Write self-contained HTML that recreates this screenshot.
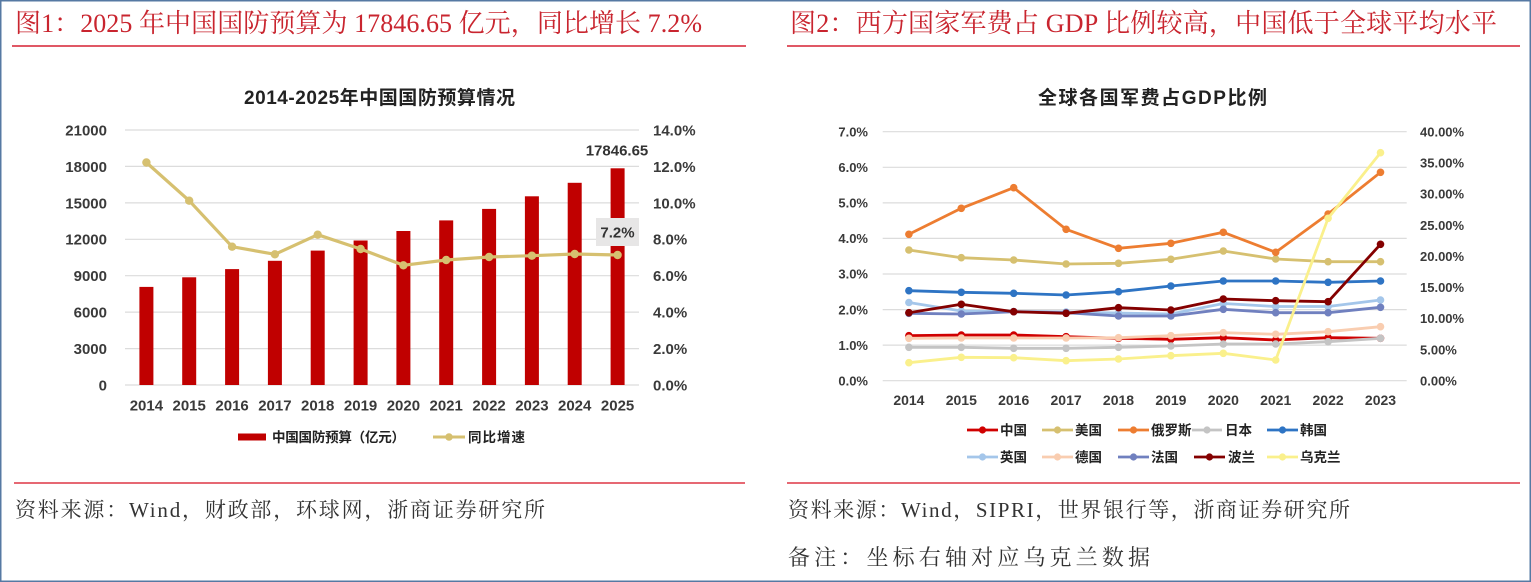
<!DOCTYPE html>
<html>
<head>
<meta charset="utf-8">
<style>
html,body{margin:0;padding:0;background:#fff;}
body{width:1531px;height:582px;overflow:hidden;}
svg{display:block;}
.t{font-family:"Liberation Serif","Noto Serif CJK SC",serif;}
.s{font-family:"Liberation Sans","Noto Sans CJK SC",sans-serif;font-weight:bold;}
</style>
</head>
<body>
<svg width="1531" height="582" viewBox="0 0 1531 582" xmlns="http://www.w3.org/2000/svg">
<defs>
  <marker id="mk" markerWidth="10" markerHeight="10" refX="5" refY="5" markerUnits="userSpaceOnUse"><circle cx="5" cy="5" r="4.2" fill="#d6c070"/></marker>
  <marker id="m0" markerWidth="10" markerHeight="10" refX="5" refY="5" markerUnits="userSpaceOnUse"><circle cx="5" cy="5" r="3.8" fill="#d00000"/></marker>
  <marker id="m1" markerWidth="10" markerHeight="10" refX="5" refY="5" markerUnits="userSpaceOnUse"><circle cx="5" cy="5" r="3.8" fill="#d6c070"/></marker>
  <marker id="m2" markerWidth="10" markerHeight="10" refX="5" refY="5" markerUnits="userSpaceOnUse"><circle cx="5" cy="5" r="3.8" fill="#ed7d31"/></marker>
  <marker id="m3" markerWidth="10" markerHeight="10" refX="5" refY="5" markerUnits="userSpaceOnUse"><circle cx="5" cy="5" r="3.8" fill="#c4c4c4"/></marker>
  <marker id="m4" markerWidth="10" markerHeight="10" refX="5" refY="5" markerUnits="userSpaceOnUse"><circle cx="5" cy="5" r="3.8" fill="#2e74c4"/></marker>
  <marker id="m5" markerWidth="10" markerHeight="10" refX="5" refY="5" markerUnits="userSpaceOnUse"><circle cx="5" cy="5" r="3.8" fill="#a4c6ea"/></marker>
  <marker id="m6" markerWidth="10" markerHeight="10" refX="5" refY="5" markerUnits="userSpaceOnUse"><circle cx="5" cy="5" r="3.8" fill="#f9cdb0"/></marker>
  <marker id="m7" markerWidth="10" markerHeight="10" refX="5" refY="5" markerUnits="userSpaceOnUse"><circle cx="5" cy="5" r="3.8" fill="#7080bf"/></marker>
  <marker id="m8" markerWidth="10" markerHeight="10" refX="5" refY="5" markerUnits="userSpaceOnUse"><circle cx="5" cy="5" r="3.8" fill="#840000"/></marker>
  <marker id="m9" markerWidth="10" markerHeight="10" refX="5" refY="5" markerUnits="userSpaceOnUse"><circle cx="5" cy="5" r="3.8" fill="#faf08c"/></marker>
</defs>

<rect x="0" y="0" width="1531" height="582" fill="#ffffff"/>
<rect x="0.75" y="0.75" width="1529.5" height="580.5" fill="none" stroke="#5679a3" stroke-width="1.5"/>

<!-- ===== Titles ===== -->
<text class="t" x="15" y="32" font-size="26" fill="#c9252f" textLength="687">图1：2025 年中国国防预算为 17846.65 亿元，同比增长 7.2%</text>
<text class="t" x="790" y="32" font-size="26" fill="#c9252f" textLength="707">图2：西方国家军费占 GDP 比例较高，中国低于全球平均水平</text>
<line x1="12" y1="46" x2="746" y2="46" stroke="#e05865" stroke-width="2"/>
<line x1="787" y1="46" x2="1520" y2="46" stroke="#e05865" stroke-width="2"/>

<!-- ===== Left chart ===== -->
<text class="s" x="244" y="104" font-size="19" fill="#222" textLength="271">2014-2025年中国国防预算情况</text>

<g stroke="#dcdcdc" stroke-width="1.2">
  <line x1="125" y1="130" x2="639" y2="130"/>
  <line x1="125" y1="166.4" x2="639" y2="166.4"/>
  <line x1="125" y1="202.9" x2="639" y2="202.9"/>
  <line x1="125" y1="239.3" x2="639" y2="239.3"/>
  <line x1="125" y1="275.7" x2="639" y2="275.7"/>
  <line x1="125" y1="312.1" x2="639" y2="312.1"/>
  <line x1="125" y1="348.6" x2="639" y2="348.6"/>
  <line x1="125" y1="385" x2="639" y2="385"/>
</g>
<g class="s" font-size="15" fill="#3a3a3a" text-anchor="end">
  <text x="107" y="135.4">21000</text>
  <text x="107" y="171.8">18000</text>
  <text x="107" y="208.3">15000</text>
  <text x="107" y="244.7">12000</text>
  <text x="107" y="281.1">9000</text>
  <text x="107" y="317.5">6000</text>
  <text x="107" y="354">3000</text>
  <text x="107" y="390.4">0</text>
</g>
<g class="s" font-size="15" fill="#3a3a3a">
  <text x="653" y="135.4">14.0%</text>
  <text x="653" y="171.8">12.0%</text>
  <text x="653" y="208.3">10.0%</text>
  <text x="653" y="244.7">8.0%</text>
  <text x="653" y="281.1">6.0%</text>
  <text x="653" y="317.5">4.0%</text>
  <text x="653" y="354">2.0%</text>
  <text x="653" y="390.4">0.0%</text>
</g>
<g fill="#c00000">
  <rect x="139.4" y="286.9" width="14" height="98.1"/>
  <rect x="182.2" y="277.3" width="14" height="107.7"/>
  <rect x="225.1" y="269.1" width="14" height="115.9"/>
  <rect x="267.9" y="260.8" width="14" height="124.2"/>
  <rect x="310.7" y="250.6" width="14" height="134.4"/>
  <rect x="353.6" y="240.5" width="14" height="144.5"/>
  <rect x="396.4" y="231.0" width="14" height="154.0"/>
  <rect x="439.2" y="220.4" width="14" height="164.6"/>
  <rect x="482.1" y="208.9" width="14" height="176.1"/>
  <rect x="524.9" y="196.3" width="14" height="188.7"/>
  <rect x="567.7" y="182.8" width="14" height="202.2"/>
  <rect x="610.6" y="168.3" width="14" height="216.7"/>
</g>
<rect x="596" y="218" width="43" height="28" fill="#e7e6e6"/>
<polyline fill="none" stroke="#d6c070" stroke-width="3.2" stroke-linejoin="round"
  marker-start="url(#mk)" marker-mid="url(#mk)" marker-end="url(#mk)"
  points="146.4,162.5 189.2,200.7 232.1,246.7 274.9,254.3 317.7,234.7 360.6,249 403.4,265.3 446.2,260 489.1,257 531.9,255.7 574.7,254 617.6,255"/>
<text class="s" x="617" y="155.4" font-size="15" fill="#333" text-anchor="middle">17846.65</text>
<text class="s" x="617.5" y="237.4" font-size="15" fill="#333" text-anchor="middle">7.2%</text>

<g class="s" font-size="15" fill="#3a3a3a" text-anchor="middle">
  <text x="146.4" y="410.5">2014</text>
  <text x="189.2" y="410.5">2015</text>
  <text x="232.1" y="410.5">2016</text>
  <text x="274.9" y="410.5">2017</text>
  <text x="317.7" y="410.5">2018</text>
  <text x="360.6" y="410.5">2019</text>
  <text x="403.4" y="410.5">2020</text>
  <text x="446.2" y="410.5">2021</text>
  <text x="489.1" y="410.5">2022</text>
  <text x="531.9" y="410.5">2023</text>
  <text x="574.7" y="410.5">2024</text>
  <text x="617.6" y="410.5">2025</text>
</g>
<rect x="238" y="433.5" width="28" height="7" fill="#c00000"/>
<text class="s" x="272" y="442" font-size="13.5" fill="#222" textLength="133">中国国防预算（亿元）</text>
<line x1="433" y1="437" x2="465" y2="437" stroke="#d6c070" stroke-width="3"/>
<circle cx="449" cy="437" r="3.8" fill="#d6c070"/>
<text class="s" x="468" y="442" font-size="13.5" fill="#222" textLength="57">同比增速</text>

<line x1="14" y1="483" x2="745" y2="483" stroke="#e66873" stroke-width="2"/>
<text class="t" x="15" y="517" font-size="21" fill="#333" textLength="530">资料来源：Wind，财政部，环球网，浙商证券研究所</text>

<!-- ===== Right chart ===== -->
<text class="s" x="1038" y="104" font-size="19" fill="#222" textLength="229">全球各国军费占GDP比例</text>

<g stroke="#dcdcdc" stroke-width="1.2">
  <line x1="882.7" y1="131.7" x2="1406.7" y2="131.7"/>
  <line x1="882.7" y1="167.3" x2="1406.7" y2="167.3"/>
  <line x1="882.7" y1="202.9" x2="1406.7" y2="202.9"/>
  <line x1="882.7" y1="238.4" x2="1406.7" y2="238.4"/>
  <line x1="882.7" y1="274.0" x2="1406.7" y2="274.0"/>
  <line x1="882.7" y1="309.6" x2="1406.7" y2="309.6"/>
  <line x1="882.7" y1="345.1" x2="1406.7" y2="345.1"/>
  <line x1="882.7" y1="380.7" x2="1406.7" y2="380.7"/>
</g>
<g class="s" font-size="13" fill="#3a3a3a" text-anchor="end">
  <text x="868" y="136.4">7.0%</text>
  <text x="868" y="172">6.0%</text>
  <text x="868" y="207.6">5.0%</text>
  <text x="868" y="243.1">4.0%</text>
  <text x="868" y="278.7">3.0%</text>
  <text x="868" y="314.3">2.0%</text>
  <text x="868" y="349.8">1.0%</text>
  <text x="868" y="385.4">0.0%</text>
</g>
<g class="s" font-size="13" fill="#3a3a3a">
  <text x="1420" y="136.4">40.00%</text>
  <text x="1420" y="167.5">35.00%</text>
  <text x="1420" y="198.6">30.00%</text>
  <text x="1420" y="229.8">25.00%</text>
  <text x="1420" y="260.9">20.00%</text>
  <text x="1420" y="292.0">15.00%</text>
  <text x="1420" y="323.1">10.00%</text>
  <text x="1420" y="354.3">5.00%</text>
  <text x="1420" y="385.4">0.00%</text>
</g>

<g fill="none" stroke-width="2.8" stroke-linejoin="round">
  <polyline stroke="#d00000" marker-start="url(#m0)" marker-mid="url(#m0)" marker-end="url(#m0)"
    points="908.9,335.7 961.3,335 1013.7,335 1066.1,336.7 1118.5,338.3 1170.9,339.3 1223.3,337.7 1275.7,340 1328.1,337.7 1380.5,338.3"/>
  <polyline stroke="#d6c070" marker-start="url(#m1)" marker-mid="url(#m1)" marker-end="url(#m1)"
    points="908.9,250 961.3,257.7 1013.7,260 1066.1,264 1118.5,263.3 1170.9,259.3 1223.3,251 1275.7,259 1328.1,261.7 1380.5,261.7"/>
  <polyline stroke="#ed7d31" marker-start="url(#m2)" marker-mid="url(#m2)" marker-end="url(#m2)"
    points="908.9,234.3 961.3,208.3 1013.7,187.7 1066.1,229.3 1118.5,248.3 1170.9,243.3 1223.3,232.3 1275.7,252.3 1328.1,214 1380.5,172.3"/>
  <polyline stroke="#c4c4c4" marker-start="url(#m3)" marker-mid="url(#m3)" marker-end="url(#m3)"
    points="908.9,347.3 961.3,347.3 1013.7,348.3 1066.1,348.3 1118.5,347.3 1170.9,346 1223.3,344 1275.7,344 1328.1,341.7 1380.5,338.3"/>
  <polyline stroke="#2e74c4" marker-start="url(#m4)" marker-mid="url(#m4)" marker-end="url(#m4)"
    points="908.9,290.7 961.3,292.3 1013.7,293.3 1066.1,295 1118.5,291.7 1170.9,286 1223.3,281 1275.7,281 1328.1,282.3 1380.5,281"/>
  <polyline stroke="#a4c6ea" marker-start="url(#m5)" marker-mid="url(#m5)" marker-end="url(#m5)"
    points="908.9,302.5 961.3,311 1013.7,311.5 1066.1,312 1118.5,313 1170.9,314 1223.3,303.5 1275.7,306.5 1328.1,306.5 1380.5,300"/>
  <polyline stroke="#f9cdb0" marker-start="url(#m6)" marker-mid="url(#m6)" marker-end="url(#m6)"
    points="908.9,338.3 961.3,338 1013.7,338 1066.1,338 1118.5,337.7 1170.9,335.7 1223.3,332.7 1275.7,334.3 1328.1,331.7 1380.5,326.7"/>
  <polyline stroke="#7080bf" marker-start="url(#m7)" marker-mid="url(#m7)" marker-end="url(#m7)"
    points="908.9,313.3 961.3,314 1013.7,311.7 1066.1,312.7 1118.5,316 1170.9,316 1223.3,309.3 1275.7,312.7 1328.1,312.7 1380.5,307.3"/>
  <polyline stroke="#840000" marker-start="url(#m8)" marker-mid="url(#m8)" marker-end="url(#m8)"
    points="908.9,312.7 961.3,304.3 1013.7,311.7 1066.1,313.3 1118.5,307.7 1170.9,310 1223.3,299 1275.7,300.7 1328.1,301.7 1380.5,244.3"/>
  <polyline stroke="#faf08c" marker-start="url(#m9)" marker-mid="url(#m9)" marker-end="url(#m9)"
    points="908.9,362.7 961.3,357.3 1013.7,357.7 1066.1,360.7 1118.5,359 1170.9,355.7 1223.3,353.3 1275.7,360 1328.1,218.3 1380.5,152.7"/>
</g>

<g class="s" font-size="14" fill="#3a3a3a" text-anchor="middle">
  <text x="908.9" y="405">2014</text>
  <text x="961.3" y="405">2015</text>
  <text x="1013.7" y="405">2016</text>
  <text x="1066.1" y="405">2017</text>
  <text x="1118.5" y="405">2018</text>
  <text x="1170.9" y="405">2019</text>
  <text x="1223.3" y="405">2020</text>
  <text x="1275.7" y="405">2021</text>
  <text x="1328.1" y="405">2022</text>
  <text x="1380.5" y="405">2023</text>
</g>

<!-- legend -->
<g stroke-width="2.8">
  <line x1="967" y1="430" x2="998" y2="430" stroke="#d00000"/>
  <line x1="1042" y1="430" x2="1073" y2="430" stroke="#d6c070"/>
  <line x1="1118" y1="430" x2="1149" y2="430" stroke="#ed7d31"/>
  <line x1="1192" y1="430" x2="1222" y2="430" stroke="#c4c4c4"/>
  <line x1="1267" y1="430" x2="1298" y2="430" stroke="#2e74c4"/>
  <line x1="967" y1="457" x2="998" y2="457" stroke="#a4c6ea"/>
  <line x1="1042" y1="457" x2="1073" y2="457" stroke="#f9cdb0"/>
  <line x1="1118" y1="457" x2="1149" y2="457" stroke="#7080bf"/>
  <line x1="1194" y1="457" x2="1225" y2="457" stroke="#840000"/>
  <line x1="1267" y1="457" x2="1298" y2="457" stroke="#faf08c"/>
</g>
<circle cx="982.5" cy="430" r="3.6" fill="#d00000"/>
<circle cx="1057.5" cy="430" r="3.6" fill="#d6c070"/>
<circle cx="1133.5" cy="430" r="3.6" fill="#ed7d31"/>
<circle cx="1207" cy="430" r="3.6" fill="#c4c4c4"/>
<circle cx="1282.5" cy="430" r="3.6" fill="#2e74c4"/>
<circle cx="982.5" cy="457" r="3.6" fill="#a4c6ea"/>
<circle cx="1057.5" cy="457" r="3.6" fill="#f9cdb0"/>
<circle cx="1133.5" cy="457" r="3.6" fill="#7080bf"/>
<circle cx="1209.5" cy="457" r="3.6" fill="#840000"/>
<circle cx="1282.5" cy="457" r="3.6" fill="#faf08c"/>
<g class="s" font-size="13.5" fill="#222">
  <text x="1000" y="435">中国</text>
  <text x="1075" y="435">美国</text>
  <text x="1151" y="435">俄罗斯</text>
  <text x="1225" y="435">日本</text>
  <text x="1300" y="435">韩国</text>
  <text x="1000" y="462">英国</text>
  <text x="1075" y="462">德国</text>
  <text x="1151" y="462">法国</text>
  <text x="1228" y="462">波兰</text>
  <text x="1300" y="462">乌克兰</text>
</g>

<line x1="787" y1="483" x2="1520" y2="483" stroke="#e66873" stroke-width="2"/>
<text class="t" x="788" y="517" font-size="21" fill="#333" textLength="562">资料来源：Wind，SIPRI，世界银行等，浙商证券研究所</text>
<text class="t" x="788" y="565" font-size="22" fill="#333" textLength="362">备注：坐标右轴对应乌克兰数据</text>
</svg>
</body>
</html>
